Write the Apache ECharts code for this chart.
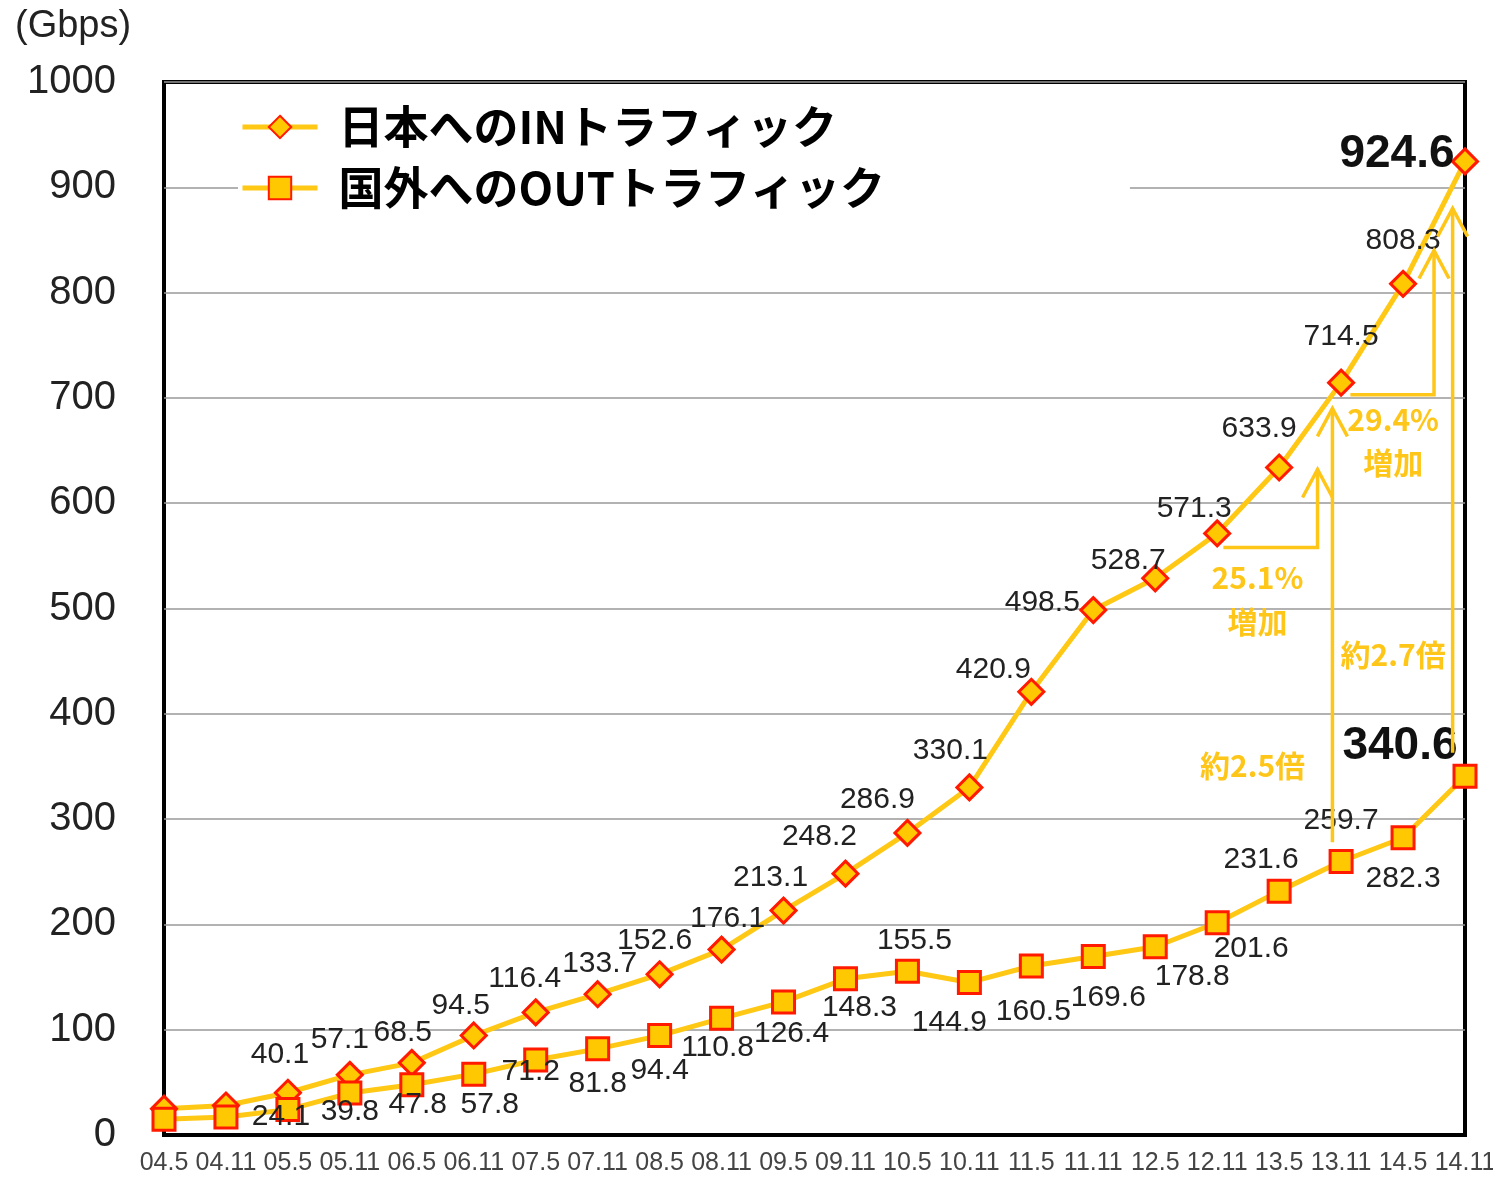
<!DOCTYPE html>
<html>
<head>
<meta charset="utf-8">
<script src="https://cdn.jsdelivr.net/npm/echarts@6/dist/echarts.min.js"></script>
<style>
  html, body { margin: 0; padding: 0; background: #fff; }
  #main { width: 1493px; height: 1182px; }
</style>
</head>
<body>
<div id="main"></div>
<script>
// half-year points, 2004.5 - 2014.11
const categories = ['04.5', '04.11', '05.5', '05.11', '06.5', '06.11', '07.5', '07.11', '08.5', '08.11',
  '09.5', '09.11', '10.5', '10.11', '11.5', '11.11', '12.5', '12.11', '13.5', '13.11', '14.5', '14.11'];
const inTraffic = [25, 28, 40.1, 57.1, 68.5, 94.5, 116.4, 133.7, 152.6, 176.1, 213.1, 248.2,
  286.9, 330.1, 420.9, 498.5, 528.7, 571.3, 633.9, 714.5, 808.3, 924.6];
const outTraffic = [15, 17, 24.1, 39.8, 47.8, 57.8, 71.2, 81.8, 94.4, 110.8, 126.4, 148.3,
  155.5, 144.9, 160.5, 169.6, 178.8, 201.6, 231.6, 259.7, 282.3, 340.6];
const yTicks = [0, 100, 200, 300, 400, 500, 600, 700, 800, 900, 1000];
const seriesNames = ['日本へのINトラフィック', '国外へのOUTトラフィック'];

// label placement (px offsets from the marker)
const inLabelOffset = [null, null, [-8, -38], [-10, -35], [-9, -30], [-13, -30], [-11, -34], [2, -30],
  [-5, -34], [6, -31], [-13, -33], [-26, -37], [-30, -33], [-19, -37], [-38, -22], [-51, -7],
  [-27, -18], [-23, -25], [-20, -39], [0, -46], [0, -43], [-68, -7]];
const outLabelOffset = [null, null, [-7, 7], [0, 19], [6, 20], [16, 31], [-5, 12], [0, 35], [0, 35],
  [-4, 29], [8, 32], [14, 29], [7, -31], [-20, 40], [2, 46], [15, 41], [37, 30], [34, 26],
  [-18, -31], [0, -41], [0, 41], [-65, -30]];

const LINE = '#FFC814';
const FILL = '#FFC800';
const RED = '#FF1A00';
const ANNO = '#FFC61A';

function buildData(values, offsets) {
  const last = values.length - 1;
  return values.map(function (v, i) {
    const off = offsets[i];
    if (!off) return { value: v, label: { show: false } };
    const big = i === last;
    return {
      value: v,
      label: {
        show: true,
        position: 'inside',
        offset: off,
        fontSize: big ? 46 : 30,
        fontWeight: big ? 'bold' : 'normal',
        color: big ? '#111' : '#222'
      }
    };
  });
}

const chart = echarts.init(document.getElementById('main'));
chart.setOption({
  backgroundColor: '#fff',
  animation: false,
  title: {
    text: '(Gbps)',
    left: 10, top: 3,
    textStyle: { fontFamily: 'Liberation Sans', fontSize: 38, fontWeight: 'normal', color: '#222' }
  },
  legend: {
    orient: 'vertical',
    left: 238, top: 93,
    padding: [6, 245, 6, 2],
    backgroundColor: '#fff',
    itemWidth: 75, itemHeight: 28, itemGap: 5,
    lineStyle: { width: 5 },
    textStyle: {
      fontFamily: 'Noto Sans CJK JP', fontSize: 45, fontWeight: 'bold', color: '#000',
      lineHeight: 56, padding: [0, 0, 0, 16]
    },
    data: seriesNames
  },
  grid: {
    left: 164, right: 28, top: 82, bottom: 47,
    containLabel: false, outerBoundsMode: 'none',
    show: true, borderColor: '#000', borderWidth: 4
  },
  xAxis: {
    type: 'category',
    data: categories,
    boundaryGap: false,
    axisLine: { lineStyle: { color: '#000', width: 4 } },
    axisTick: { show: false },
    axisLabel: { interval: 0, margin: 16, fontFamily: 'Liberation Sans', fontSize: 25, color: '#444' }
  },
  yAxis: {
    type: 'value',
    min: yTicks[0], max: yTicks[yTicks.length - 1], interval: 100,
    axisLine: { show: false },
    axisTick: { show: false },
    axisLabel: {
      margin: 48, fontFamily: 'Liberation Sans', fontSize: 40, color: '#222',
      formatter: function (v) { return String(v); }
    },
    splitLine: { lineStyle: { color: '#999', width: 1.5 } }
  },
  series: [
    {
      name: seriesNames[0],
      type: 'line',
      data: buildData(inTraffic, inLabelOffset),
      symbol: 'diamond', symbolSize: 25,
      lineStyle: { color: LINE, width: 5 },
      itemStyle: { color: FILL, borderColor: RED, borderWidth: 3 },
      label: { fontFamily: 'Liberation Sans' },
      z: 3
    },
    {
      name: seriesNames[1],
      type: 'line',
      data: buildData(outTraffic, outLabelOffset),
      symbol: 'rect', symbolSize: 22,
      lineStyle: { color: LINE, width: 5 },
      itemStyle: { color: FILL, borderColor: RED, borderWidth: 3 },
      label: { fontFamily: 'Liberation Sans' },
      z: 3
    }
  ]
});

// annotations in data units: [category index, value]
function toPx(p) {
  const i = Math.floor(p[0]);
  const a = chart.convertToPixel({ xAxisIndex: 0, yAxisIndex: 0 }, [i, p[1]]);
  const b = chart.convertToPixel({ xAxisIndex: 0, yAxisIndex: 0 }, [i + 1, p[1]]);
  return [a[0] + (p[0] - i) * (b[0] - a[0]), a[1]];
}
const arrows = [
  [[17.1, 558], [18.62, 558], [18.62, 632]],
  [[19.15, 703], [20.5, 703], [20.5, 840]],
  [[18.86, 278], [18.86, 690]],
  [[20.8, 363], [20.8, 880]]
];
const notes = [
  { text: '25.1%', at: [17.65, 529] },
  { text: '増加', at: [17.65, 488] },
  { text: '29.4%', at: [19.84, 679] },
  { text: '増加', at: [19.84, 639] },
  { text: '約2.7倍', at: [19.84, 456] },
  { text: '約2.5倍', at: [17.57, 351] }
];
const graphics = [];
arrows.forEach(function (pts) {
  const px = pts.map(toPx);
  const tip = px[px.length - 1];
  graphics.push({
    type: 'polyline', z: 10,
    shape: { points: px },
    style: { stroke: ANNO, lineWidth: 3.5, fill: null }
  });
  graphics.push({
    type: 'polyline', z: 10,
    shape: { points: [[tip[0] - 15, tip[1] + 28], tip, [tip[0] + 15, tip[1] + 28]] },
    style: { stroke: ANNO, lineWidth: 3.5, fill: null }
  });
});
notes.forEach(function (n) {
  const p = toPx(n.at);
  graphics.push({
    type: 'text', z: 10,
    x: p[0], y: p[1],
    style: {
      text: n.text, fill: ANNO, fontSize: 30, fontWeight: 'bold',
      fontFamily: 'Noto Sans CJK JP', align: 'center', verticalAlign: 'middle'
    }
  });
});
chart.setOption({ graphic: graphics });
</script>
</body>
</html>
